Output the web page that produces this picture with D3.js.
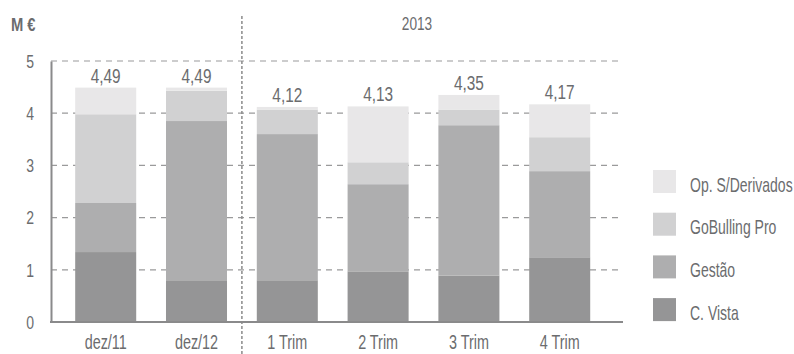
<!DOCTYPE html>
<html>
<head>
<meta charset="utf-8">
<script src="https://cdn.jsdelivr.net/npm/d3@7"></script>
<style>
  html, body { margin: 0; padding: 0; background: #fff; }
  svg text { font-family: "Liberation Sans", Arial, sans-serif; fill: #6b6c6e; }
</style>
</head>
<body>
<svg id="chart" width="794" height="354"></svg>
<script>
// Periods on the x axis
const periods = ["dez/11", "dez/12", "1 Trim", "2 Trim", "3 Trim", "4 Trim"];
// Revenue by business line (M €), bottom to top of each stack
const cVista      = [1.34, 0.80, 0.80, 0.97, 0.89, 1.24];
const gestao      = [0.94, 3.05, 2.80, 1.67, 2.88, 1.65];
const goBulling   = [1.70, 0.58, 0.47, 0.42, 0.30, 0.65];
const opDerivados = [0.51, 0.06, 0.05, 1.07, 0.28, 0.63];
// Totals printed above the bars
const totals = [4.49, 4.49, 4.12, 4.13, 4.35, 4.17];
const totalLabels = ["4,49", "4,49", "4,12", "4,13", "4,35", "4,17"];
// Series names and the y ticks
const seriesNames = ["C. Vista", "Gestão", "GoBulling Pro", "Op. S/Derivados"];
const seriesColors = ["#959596", "#aeaeaf", "#d1d1d2", "#e8e7e8"];
const yTicks = [0, 1, 2, 3, 4, 5];
const yearLabel = "2013";
const unitLabel = "M €";

// condensed lettering: squeeze text horizontally around its anchor point
function placeNarrow(sel, px, py, k) {
  sel.attr("x", 0).attr("y", 0)
     .attr("transform", (d, i) => `translate(${px(d, i)},${py(d, i)}) scale(${k},1)`);
}

const svg = d3.select("#chart");

const x = d3.scaleBand()
  .domain(periods)
  .range([60.3, 605.1])
  .paddingInner(0.328)
  .paddingOuter(0.164);

const y = d3.scaleLinear().domain([0, 5]).range([322, 61]);

const axisLeft = 51, axisRight = 623;

// Dashed horizontal gridlines
svg.append("g")
  .selectAll("line")
  .data(yTicks.filter(d => d > 0))
  .join("line")
  .attr("x1", axisLeft).attr("x2", axisRight)
  .attr("y1", d => y(d)).attr("y2", d => y(d))
  .attr("stroke", "#9a9a9b")
  .attr("stroke-width", 1.2)
  .attr("stroke-dasharray", "6,5");

// Stacked bars
const rows = periods.map((p, i) => ({
  period: p,
  "C. Vista": cVista[i],
  "Gestão": gestao[i],
  "GoBulling Pro": goBulling[i],
  "Op. S/Derivados": opDerivados[i]
}));
const stacked = d3.stack().keys(seriesNames)(rows);

svg.append("g")
  .selectAll("g")
  .data(stacked)
  .join("g")
  .attr("fill", (d, i) => seriesColors[i])
  .selectAll("rect")
  .data(d => d)
  .join("rect")
  .attr("x", d => x(d.data.period))
  .attr("width", x.bandwidth())
  .attr("y", d => y(d[1]))
  .attr("height", d => y(d[0]) - y(d[1]));

// Total labels above each bar
svg.append("g")
  .selectAll("text")
  .data(periods)
  .join("text")
  .attr("text-anchor", "middle")
  .attr("font-size", 20)
  .text((d, i) => totalLabels[i])
  .call(placeNarrow, d => x(d) + x.bandwidth() / 2, (d, i) => y(totals[i]) - 5, 0.77);

// Y axis: solid line and tick numbers
const yAxis = d3.axisLeft(y).tickValues(yTicks).tickSize(0).tickPadding(0).tickFormat(d3.format("d"));
const gy = svg.append("g").attr("transform", `translate(${axisLeft},0)`).call(yAxis);
gy.attr("font-family", null).attr("font-size", null);
gy.select(".domain").attr("stroke", "#8a8a8b").attr("stroke-width", 2);
gy.selectAll(".tick text")
  .attr("font-size", 17.5).attr("fill", "#6b6c6e").attr("dy", null)
  .call(placeNarrow, () => -17, () => 6.3, 0.8);

// X axis baseline and period labels
svg.append("line")
  .attr("x1", axisLeft - 1).attr("x2", axisRight)
  .attr("y1", y(0)).attr("y2", y(0))
  .attr("stroke", "#8a8a8b").attr("stroke-width", 2);

const xAxis = d3.axisBottom(x).tickSize(0).tickPadding(0);
const gx = svg.append("g").attr("transform", `translate(0,${y(0)})`).call(xAxis);
gx.attr("font-family", null).attr("font-size", null);
gx.select(".domain").remove();
gx.selectAll(".tick text")
  .attr("font-size", 20).attr("fill", "#6b6c6e").attr("dy", null)
  .call(placeNarrow, () => 0, () => 27.3, 0.72);

// Dotted separator between the annual and quarterly bars
const sepX = (x("dez/12") + x.bandwidth() + x("1 Trim")) / 2;
svg.append("line")
  .attr("x1", sepX).attr("x2", sepX)
  .attr("y1", 16).attr("y2", 354)
  .attr("stroke", "#8a8a8b")
  .attr("stroke-width", 1.5)
  .attr("stroke-dasharray", "3,2");

// Unit and year headings
svg.append("text")
  .datum(unitLabel)
  .attr("font-size", 18).attr("font-weight", "bold")
  .text(d => d)
  .call(placeNarrow, () => 11, () => 30.5, 0.82);

svg.append("text")
  .datum(yearLabel)
  .attr("text-anchor", "middle")
  .attr("font-size", 18.5)
  .text(d => d)
  .call(placeNarrow, () => 417, () => 29.5, 0.74);

// Legend, top entry is the top of the stack
const legendOrder = seriesNames.map((n, i) => ({ name: n, color: seriesColors[i] })).reverse();
const legend = svg.append("g")
  .selectAll("g")
  .data(legendOrder)
  .join("g")
  .attr("transform", (d, i) => `translate(653,${170 + i * 42.7})`);
legend.append("rect").attr("width", 23).attr("height", 23).attr("fill", d => d.color);
legend.append("text")
  .attr("font-size", 20)
  .text(d => d.name)
  .call(placeNarrow, () => 37, () => 21.5, 0.7);
</script>
</body>
</html>
